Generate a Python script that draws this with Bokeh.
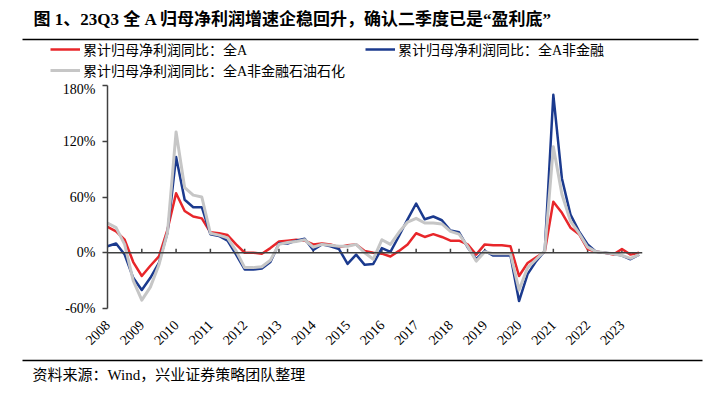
import math
from bokeh.plotting import figure
from bokeh.models import Range1d, FixedTicker, Span, Legend, LegendItem, Label
from bokeh.layouts import column
from bokeh.embed import file_html
from bokeh.resources import INLINE

# ---------------- data ----------------
quarters = [f"{y}Q{q}" for y in range(2008, 2024) for q in range(1, 5)][:63]  # 2008Q1 .. 2023Q3

# 累计归母净利润同比：全A (%)
all_a = [28, 23, 14, -10, -25, -14, -4, 25,
         64, 45, 39, 37, 22, 21, 19, 9,
         0, 0, -1, 5, 12, 13, 14, 13,
         9, 10, 9, 6, 8, 9, 2, 0,
         -1, -4, 2, 9, 21, 17, 20, 17,
         13, 13, 9, -2, 9, 8, 8, 7,
         -25, -11, -5, 1, 55, 43, 27, 20,
         4, 1, 0, -2, 4, -2, 0]

# 累计归母净利润同比：全A非金融 (%)
non_fin = [7, 10, -2, -27, -40, -27, -11, 22,
           103, 57, 49, 49, 20, 18, 13, -2,
           -18, -18, -17, -10, 10, 10, 13, 15,
           3, 9, 7, 4, -12, -2, -13, -12,
           5, 1, 18, 36, 53, 36, 39, 35,
           24, 22, 6, -7, 2, -3, -3, -3,
           -52, -23, -9, 2, 170, 80, 41, 23,
           9, 1, 0, -1, -3, -7, -2]

# 累计归母净利润同比：全A非金融石油石化 (%)
non_fin_petro = [32, 27, 9, -30, -51, -37, -13, 22,
                 130, 70, 62, 60, 21, 19, 16, 2,
                 -16, -16, -15, -8, 9, 11, 12, 14,
                 6, 9, 8, 7, 7, 9, 0, -7,
                 14, 9, 22, 33, 37, 32, 32, 31,
                 23, 20, 7, -9, 1, -1, -1, -1,
                 -40, -16, -7, 2, 114, 63, 34, 21,
                 6, 1, 0, -1, -3, -6, -2]

years = list(range(2008, 2024))
year_labels = [str(y) for y in years]
y_ticks = [-60, 0, 60, 120, 180]
y_tick_labels = ["-60%", "0%", "60%", "120%", "180%"]

series_names = ["累计归母净利润同比：全A",
                "累计归母净利润同比：全A非金融",
                "累计归母净利润同比：全A非金融石油石化"]

title_text = "图 1、23Q3  全 A 归母净利润增速企稳回升，确认二季度已是“盈利底”"
source_text = "资料来源：Wind，兴业证券策略团队整理"

x = [int(s[:4]) + (int(s[-1]) - 1) / 4 for s in quarters]

FONT = "Liberation Serif, Noto Sans CJK SC"
AXIS_COLOR = "#404040"
RED = "#E8262A"
BLUE = "#1B3A8E"
GRAY = "#C6C6C6"
series_styles = [dict(line_color=RED, line_width=2.5),
                 dict(line_color=BLUE, line_width=2.5),
                 dict(line_color=GRAY, line_width=3)]

W = 706

# ---------------- header: title, rule, legend ----------------
HH = 73
header = figure(width=W, height=HH, x_range=Range1d(0, W), y_range=Range1d(HH, 0),
                min_border=0, toolbar_location=None, output_backend="svg",
                x_axis_type=None, y_axis_type=None, title=None)
header.frame_align = False
header.outline_line_color = None
header.add_layout(Label(x=25, y=10.5, text=title_text, text_font=FONT,
                        text_font_size="17px", text_font_style="bold",
                        text_baseline="middle", text_align="left", text_color="#000000"))
header.segment(x0=[14], y0=[31], x1=[690], y1=[31], line_color="#000000", line_width=1.5)

# legend keys: single-point lines (draw nothing themselves), styled like the series
keys = [header.line(x=[0], y=[0], line_join="round", **st) for st in series_styles]
legend = Legend(items=[LegendItem(label=n, renderers=[k]) for n, k in zip(series_names, keys)],
                location=(42, 1), orientation="horizontal", ncols=2,
                padding=0, spacing=1, margin=0,
                glyph_width=30, glyph_height=16, label_height=16, label_width=281,
                label_standoff=3, label_text_font=FONT, label_text_font_size="14px",
                label_text_color="#000000",
                border_line_color=None, background_fill_alpha=0)
header.add_layout(legend, "center")

# ---------------- main chart ----------------
p = figure(width=W, height=271, x_range=Range1d(2008, 2023.6), y_range=Range1d(-60, 180),
           min_border_left=99, min_border_right=72, min_border_top=4, min_border_bottom=44,
           toolbar_location=None, output_backend="svg", title=None)
p.frame_align = False
p.xgrid.visible = False
p.ygrid.visible = False
p.outline_line_color = None

xa = p.xaxis[0]
xa.ticker = FixedTicker(ticks=years)
xa.major_label_overrides = {y: l for y, l in zip(years, year_labels)}
xa.axis_line_color = None
xa.major_tick_line_color = None
xa.minor_tick_line_color = None
xa.major_label_orientation = math.pi / 4
xa.major_label_text_font = FONT
xa.major_label_text_font_size = "14px"
xa.major_label_text_color = "#000000"
xa.major_label_standoff = 8

ya = p.yaxis[0]
ya.ticker = FixedTicker(ticks=y_ticks)
ya.major_label_overrides = {t: l for t, l in zip(y_ticks, y_tick_labels)}
ya.axis_line_color = AXIS_COLOR
ya.axis_line_width = 1.5
ya.major_tick_line_color = AXIS_COLOR
ya.major_tick_line_width = 1.5
ya.major_tick_out = 5
ya.major_tick_in = 0
ya.minor_tick_line_color = None
ya.major_label_text_font = FONT
ya.major_label_text_font_size = "14px"
ya.major_label_text_color = "#000000"
ya.major_label_standoff = 7

# zero line with upward year ticks
p.add_layout(Span(location=0, dimension="width", line_color=AXIS_COLOR, line_width=1.5))
p.segment(x0=years[1:], y0=[0] * (len(years) - 1), x1=years[1:], y1=[4.3] * (len(years) - 1),
          line_color=AXIS_COLOR, line_width=1.5)

for ys, st in zip([all_a, non_fin, non_fin_petro], series_styles):
    p.line(x, ys, line_join="round", **st)

# ---------------- footer ----------------
footer = figure(width=W, height=36, x_range=Range1d(0, W), y_range=Range1d(36, 0),
                min_border=0, toolbar_location=None, output_backend="svg",
                x_axis_type=None, y_axis_type=None, title=None)
footer.frame_align = False
footer.outline_line_color = None
footer.segment(x0=[14], y0=[8], x1=[694], y1=[8], line_color="#000000", line_width=1.5)
footer.add_layout(Label(x=24, y=22, text=source_text, text_font=FONT,
                        text_font_size="15px", text_baseline="middle",
                        text_align="left", text_color="#000000"))

layout = column(header, p, footer, spacing=0, margin=(8, 0, 0, 8))

open("out.html", "w").write(file_html(layout, INLINE))
